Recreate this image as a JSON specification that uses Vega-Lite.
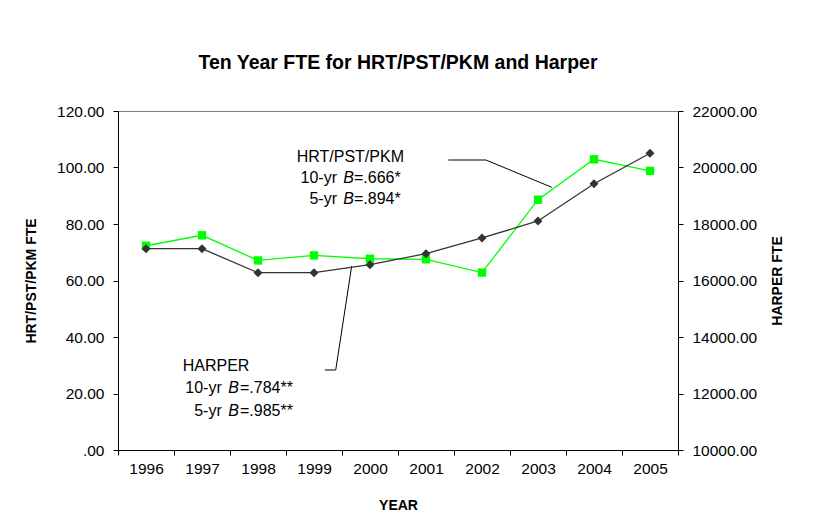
{
  "$schema": "https://vega.github.io/schema/vega-lite/v6.json",
  "width": 560,
  "height": 339,
  "autosize": {"type": "none"},
  "padding": {"left": 118, "top": 111, "right": 135, "bottom": 82},
  "background": "white",
  "title": {
    "text": "Ten Year FTE for HRT/PST/PKM and Harper",
    "font": "Liberation Sans",
    "fontSize": 19.5,
    "fontWeight": "bold",
    "color": "black",
    "anchor": "middle",
    "frame": "group",
    "offset": 31
  },
  "config": {
    "view": {"stroke": "#808080", "strokeWidth": 1},
    "font": "Liberation Sans",
    "axis": {
      "grid": false,
      "domainColor": "black",
      "domainWidth": 1,
      "tickColor": "black",
      "tickSize": 5,
      "labelColor": "black",
      "labelFont": "Liberation Sans",
      "labelFontSize": 15.5,
      "titleFont": "Liberation Sans",
      "titleFontSize": 14,
      "titleFontWeight": "bold",
      "titleColor": "black",
      "labelOverlap": false
    }
  },
  "datasets": {
    "hrt": [
      {"year": 1996, "fte": 72.3},
      {"year": 1997, "fte": 76.0},
      {"year": 1998, "fte": 67.1},
      {"year": 1999, "fte": 68.9},
      {"year": 2000, "fte": 67.7},
      {"year": 2001, "fte": 67.5},
      {"year": 2002, "fte": 62.8},
      {"year": 2003, "fte": 88.6},
      {"year": 2004, "fte": 102.9},
      {"year": 2005, "fte": 98.8}
    ],
    "harper": [
      {"year": 1996, "fte": 17126},
      {"year": 1997, "fte": 17126},
      {"year": 1998, "fte": 16276},
      {"year": 1999, "fte": 16276},
      {"year": 2000, "fte": 16560},
      {"year": 2001, "fte": 16949},
      {"year": 2002, "fte": 17505},
      {"year": 2003, "fte": 18107},
      {"year": 2004, "fte": 19427},
      {"year": 2005, "fte": 20503}
    ],
    "notesLeft": [
      {"year": 1998.691, "fte": 102.05, "t": "HRT/PST/PKM"},
      {"year": 1999.714, "fte": 94.62, "t": "=.666*"},
      {"year": 1999.714, "fte": 87.08, "t": "=.894*"},
      {"year": 1996.655, "fte": 27.96, "t": "HARPER"},
      {"year": 1997.679, "fte": 20.07, "t": "=.784**"},
      {"year": 1997.679, "fte": 12.14, "t": "=.985**"}
    ],
    "notesRight": [
      {"year": 1999.411, "fte": 94.62, "t": "10-yr"},
      {"year": 1999.411, "fte": 87.08, "t": "5-yr"},
      {"year": 1997.352, "fte": 20.07, "t": "10-yr"},
      {"year": 1997.352, "fte": 12.14, "t": "5-yr"}
    ],
    "notesB": [
      {"year": 1999.523, "fte": 94.62, "t": "B"},
      {"year": 1999.523, "fte": 87.08, "t": "B"},
      {"year": 1997.470, "fte": 20.07, "t": "B"},
      {"year": 1997.470, "fte": 12.14, "t": "B"}
    ],
    "leaders": [
      {"g": "hrt", "o": 1, "year": 2001.398, "fte": 102.65},
      {"g": "hrt", "o": 2, "year": 2002.071, "fte": 102.65},
      {"g": "hrt", "o": 3, "year": 2003.245, "fte": 92.99},
      {"g": "harper", "o": 1, "year": 1999.196, "fte": 28.32},
      {"g": "harper", "o": 2, "year": 1999.388, "fte": 28.32},
      {"g": "harper", "o": 3, "year": 1999.673, "fte": 65.13}
    ]
  },
  "layer": [
    {
      "layer": [
        {
          "data": {"name": "hrt"},
          "mark": {"type": "line", "color": "#00FF00", "strokeWidth": 1.3},
          "encoding": {
            "x": {
              "field": "year",
              "type": "quantitative",
              "scale": {"domain": [1995.5, 2005.5], "nice": false, "zero": false},
              "axis": {
                "title": "YEAR",
                "values": [1995.5, 1996.5, 1997.5, 1998.5, 1999.5, 2000.5, 2001.5, 2002.5, 2003.5, 2004.5, 2005.5],
                "labelExpr": "datum.value < 2005 ? toString(datum.value + 0.5) : ''",
                "labelOffset": 28,
                "labelPadding": 6,
                "labelFlush": false,
                "labelBound": false,
                "titlePadding": 22
              }
            },
            "y": {
              "field": "fte",
              "type": "quantitative",
              "scale": {"domain": [0, 120], "nice": false},
              "axis": {
                "title": "HRT/PST/PKM FTE",
                "values": [0, 20, 40, 60, 80, 100, 120],
                "labelExpr": "datum.value == 0 ? '.00' : format(datum.value, '.2f')",
                "labelPadding": 9,
                "titlePadding": 18
              }
            }
          }
        },
        {
          "data": {"name": "hrt"},
          "mark": {"type": "point", "shape": "square", "filled": true, "color": "#00FF00", "size": 70, "opacity": 1},
          "encoding": {
            "x": {"field": "year", "type": "quantitative"},
            "y": {"field": "fte", "type": "quantitative"}
          }
        },
        {
          "data": {"name": "leaders"},
          "mark": {"type": "line", "color": "black", "strokeWidth": 1},
          "encoding": {
            "x": {"field": "year", "type": "quantitative"},
            "y": {"field": "fte", "type": "quantitative"},
            "detail": {"field": "g"},
            "order": {"field": "o"}
          }
        },
        {
          "data": {"name": "notesLeft"},
          "mark": {"type": "text", "align": "left", "baseline": "alphabetic", "fontSize": 16, "color": "black", "font": "Liberation Sans"},
          "encoding": {
            "x": {"field": "year", "type": "quantitative"},
            "y": {"field": "fte", "type": "quantitative"},
            "text": {"field": "t"}
          }
        },
        {
          "data": {"name": "notesRight"},
          "mark": {"type": "text", "align": "right", "baseline": "alphabetic", "fontSize": 16, "color": "black", "font": "Liberation Sans"},
          "encoding": {
            "x": {"field": "year", "type": "quantitative"},
            "y": {"field": "fte", "type": "quantitative"},
            "text": {"field": "t"}
          }
        },
        {
          "data": {"name": "notesB"},
          "mark": {"type": "text", "align": "left", "baseline": "alphabetic", "fontSize": 16, "fontStyle": "italic", "color": "black", "font": "Liberation Sans"},
          "encoding": {
            "x": {"field": "year", "type": "quantitative"},
            "y": {"field": "fte", "type": "quantitative"},
            "text": {"field": "t"}
          }
        }
      ]
    },
    {
      "data": {"name": "harper"},
      "layer": [
        {
          "mark": {"type": "line", "color": "#333333", "strokeWidth": 1.3},
          "encoding": {
            "x": {"field": "year", "type": "quantitative"},
            "y": {
              "field": "fte",
              "type": "quantitative",
              "scale": {"domain": [10000, 22000], "nice": false, "zero": false},
              "axis": {
                "orient": "right",
                "title": "HARPER FTE",
                "titleAngle": 270,
                "values": [10000, 12000, 14000, 16000, 18000, 20000, 22000],
                "format": ".2f",
                "labelPadding": 9,
                "titlePadding": 28
              }
            }
          }
        },
        {
          "mark": {"type": "point", "shape": "diamond", "filled": true, "color": "#333333", "size": 80, "opacity": 1},
          "encoding": {
            "x": {"field": "year", "type": "quantitative"},
            "y": {"field": "fte", "type": "quantitative"}
          }
        }
      ]
    }
  ],
  "resolve": {"scale": {"y": "independent"}}
}
